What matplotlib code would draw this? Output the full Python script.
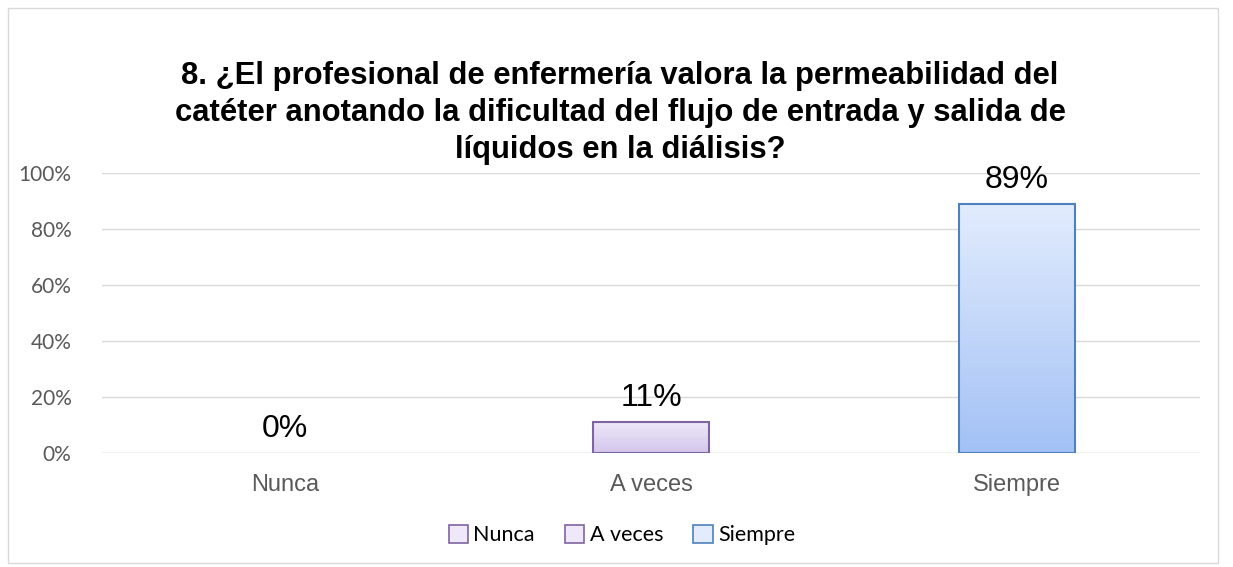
# Datos de la gráfica
import numpy as np
import matplotlib.pyplot as plt
from matplotlib.patches import Rectangle
from matplotlib.colors import LinearSegmentedColormap

categorias = ["Nunca", "A veces", "Siempre"]
valores = [0.0, 0.11, 0.89]
etiquetas = ["0%", "11%", "89%"]
ticks_y = [0, 0.2, 0.4, 0.6, 0.8, 1.0]
ticks_y_txt = ["0%", "20%", "40%", "60%", "80%", "100%"]
titulo = ("8. ¿El profesional de enfermería valora la permeabilidad del\n"
          "catéter anotando la dificultad del flujo de entrada y salida de\n"
          "líquidos en la diálisis?")

# colores (arriba, abajo, borde)
colores = [("#EEE8F8", "#D3C6EC", "#8064A2"),
           ("#EEE8F8", "#D3C6EC", "#8064A2"),
           ("#E2ECFD", "#A3C1F5", "#4F81BD")]

fig = plt.figure(figsize=(12.33, 5.67), dpi=100)
W, H = 1233, 567
ax = fig.add_axes([102 / W, 1 - 453 / H, 1098 / W, 280 / H])

x = np.arange(len(categorias))
ancho = 0.315
barras = ax.bar(x, valores, width=ancho, color="none", zorder=3)

# Degradado dentro de cada barra
for b, (c1, c2, ce) in zip(barras, colores):
    if b.get_height() <= 0:
        continue
    cmap = LinearSegmentedColormap.from_list("g", [c2, c1])
    grad = np.linspace(0, 1, 256).reshape(-1, 1)
    x0, y0 = b.get_x(), b.get_y()
    im = ax.imshow(grad, cmap=cmap, origin="lower", aspect="auto",
                   extent=[x0, x0 + b.get_width(), y0, y0 + b.get_height()],
                   zorder=3)
    im.set_clip_path(b)
    b.set_edgecolor(ce)
    b.set_linewidth(1.5)
    b.set_zorder(4)

# Etiquetas de datos
for xi, v, t in zip(x, valores, etiquetas):
    ax.text(xi, v + 0.085, t, ha="center", va="center", fontsize=23,
            family="Liberation Sans", color="black")

ax.set_xlim(-0.5, 2.5)
ax.set_ylim(0, 1.0)
ax.set_yticks(ticks_y)
ax.set_yticklabels(ticks_y_txt, family="Lato", fontsize=15, color="#595959")
ax.set_xticks(x)
ax.set_xticklabels(categorias, family="Liberation Sans", fontsize=17,
                   color="#595959")
ax.tick_params(axis="both", length=0)
ax.tick_params(axis="y", pad=22)
ax.tick_params(axis="x", pad=15)
ax.grid(axis="y", color="#D9D9D9", linewidth=1, zorder=0)
for s in ax.spines.values():
    s.set_visible(False)
ax.axhline(0, color="#D9D9D9", linewidth=1, zorder=1)

# Título
fig.text(620 / W, 1 - 113 / H, titulo, ha="center", va="center",
         fontsize=22.3, fontweight="bold", family="Liberation Sans",
         linespacing=1.3)

# Leyenda
handles = [Rectangle((0, 0), 1, 1, facecolor=c[0], edgecolor=c[2], lw=1.2)
           for c in colores]
fig.legend(handles, categorias, loc="center", bbox_to_anchor=(622 / W, 1 - 535 / H),
           ncol=3, frameon=False, prop={"family": "Lato", "size": 15.5},
           handlelength=0.9, handleheight=0.9, handletextpad=0.25,
           columnspacing=1.4)

# Marco
fig.add_artist(Rectangle((8 / W, 4 / H), 1210 / W, 555 / H,
                         transform=fig.transFigure, fill=False,
                         edgecolor="#D9D9D9", linewidth=1))

fig.savefig("out.png", dpi=100)
